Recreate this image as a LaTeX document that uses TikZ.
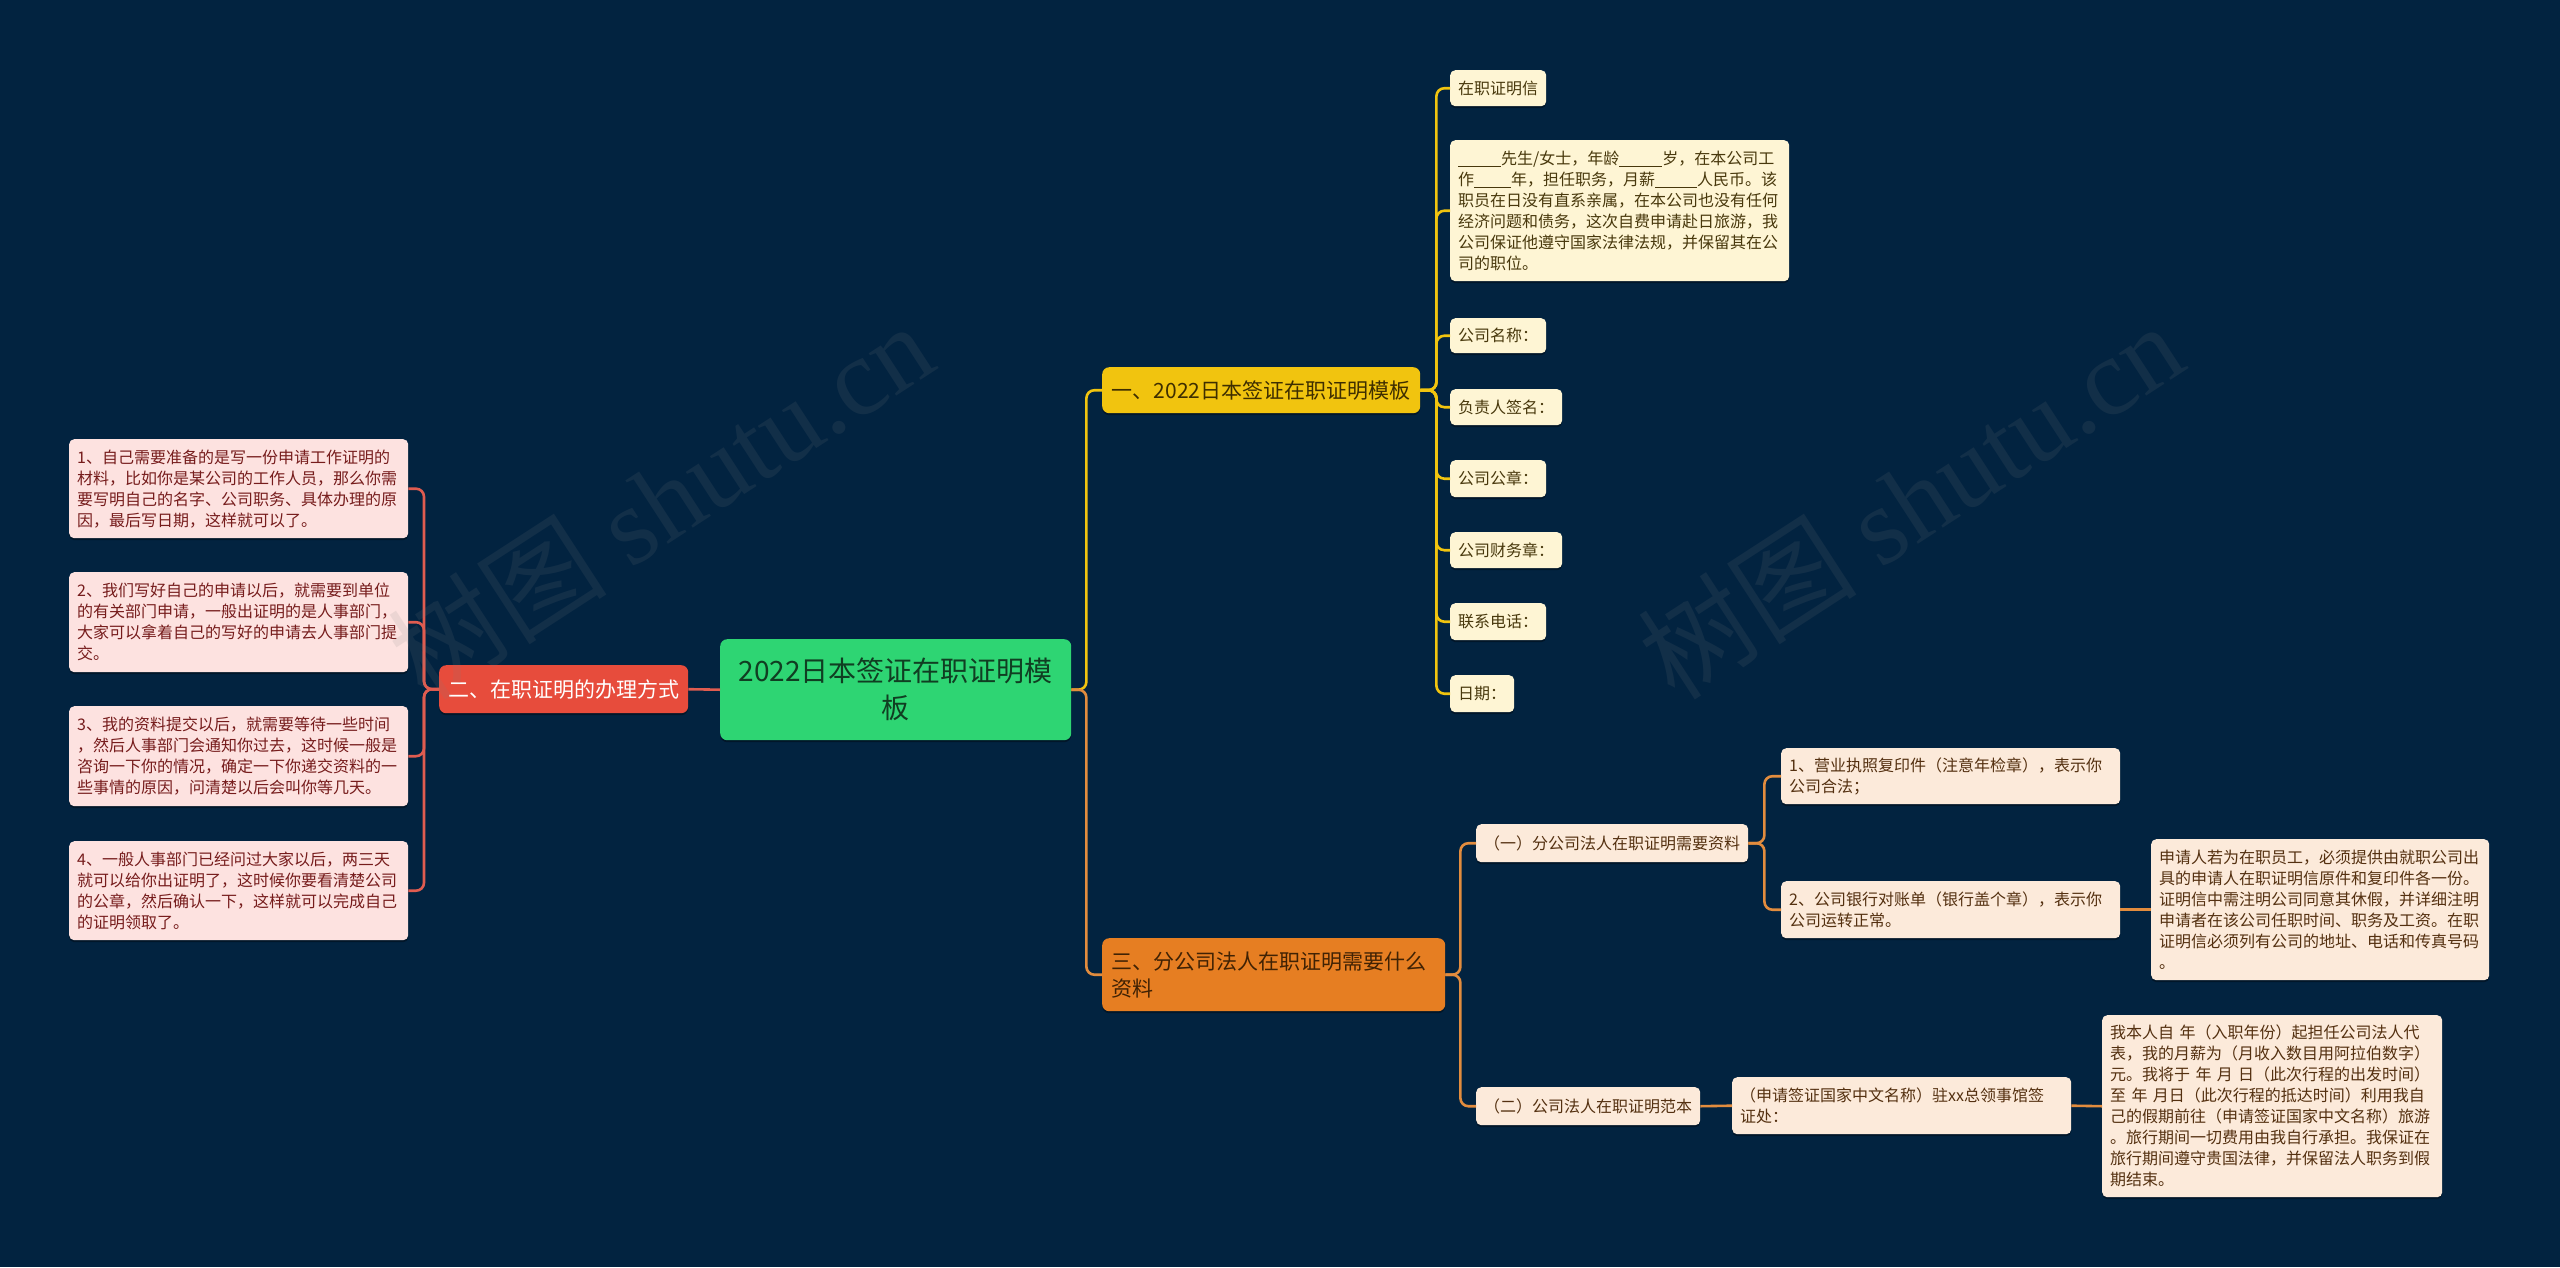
\documentclass[tikz,border=0pt]{standalone}
\usepackage{fontspec}
\setmainfont{Noto Sans CJK SC}
\newfontfamily\wmserif{Liberation Serif}
\usetikzlibrary{shadows}
\definecolor{bg}{RGB}{2,35,64}
\definecolor{cgreen}{RGB}{46,213,115}
\definecolor{cyellow}{RGB}{241,196,15}
\definecolor{cred}{RGB}{231,76,60}
\definecolor{corange}{RGB}{230,126,34}
\definecolor{lyellow}{RGB}{254,245,212}
\definecolor{lpink}{RGB}{253,226,224}
\definecolor{lpeach}{RGB}{252,234,218}
\definecolor{tyellow}{RGB}{72,56,12}
\definecolor{tpink}{RGB}{118,28,28}
\definecolor{tpeach}{RGB}{84,48,16}
\definecolor{tgreen}{RGB}{16,62,34}
\definecolor{tmainy}{RGB}{62,46,0}
\definecolor{tmaino}{RGB}{64,34,4}
\definecolor{lnyellow}{RGB}{241,196,15}
\definecolor{lnred}{RGB}{224,92,80}
\definecolor{lnorange}{RGB}{226,140,62}
\newcommand\myblank[1]{\rule[-3pt]{#1pt}{0.9pt}}
\tikzset{
  shad/.style={drop shadow={shadow xshift=0pt, shadow yshift=-2pt, fill=black, opacity=0.35}},
  box/.style={anchor=north west, rounded corners=5pt, inner xsep=8pt, inner ysep=0pt,
    font=\fontsize{16}{21}\selectfont, align=left, shad},
  yleaf/.style={box, fill=lyellow, text=tyellow},
  pleaf/.style={box, fill=lpink, text=tpink},
  oleaf/.style={box, fill=lpeach, text=tpeach},
  mainbox/.style={anchor=north west, rounded corners=7pt, inner xsep=9pt, inner ysep=0pt,
    font=\fontsize{21}{27}\selectfont, align=left, shad},
  link/.style={line width=2.6pt, rounded corners=8pt},
  wmark/.style={rotate=33, text=gray, opacity=0.13, font=\fontsize{110}{110}\selectfont}
}
\begin{document}
\begin{tikzpicture}[x=1pt, y=-1pt]
\fill[bg] (0,0) rectangle (2560,1267);
\useasboundingbox (0,0) rectangle (2560,1267);

% centre
\node[anchor=north west, fill=cgreen, text=tgreen, rounded corners=7pt, inner sep=0pt,
  minimum width=351pt, minimum height=101pt, align=center,
  font=\fontsize{28}{37}\selectfont, shad] (c) at (720,639) {2022日本签证在职证明模\\板};

% main branches
\node[mainbox, fill=cyellow, text=tmainy, minimum width=318pt, minimum height=46pt] (Y) at (1102,367) {一、2022日本签证在职证明模板};
\node[mainbox, fill=cred, text=white, minimum width=249pt, minimum height=48pt] (R) at (439,665) {二、在职证明的办理方式};
\node[mainbox, fill=corange, text=tmaino, text width=325pt, minimum height=73pt] (O) at (1102,938) {三、分公司法人在职证明需要什么\\资料};

% yellow leaves
\node[yleaf, minimum height=36pt] (y1) at (1450,70) {在职证明信};
\node[yleaf, text width=323pt, minimum height=141pt] (y2) at (1450,140) {\myblank{43}先生/女士，年龄\myblank{43}岁，在本公司工\\作\myblank{37}年，担任职务，月薪\myblank{42}人民币。该\\职员在日没有直系亲属，在本公司也没有任何\\经济问题和债务，这次自费申请赴日旅游，我\\公司保证他遵守国家法律法规，并保留其在公\\司的职位。};
\node[yleaf, minimum height=35pt] (y3) at (1450,318) {公司名称：};
\node[yleaf, minimum height=36pt] (y4) at (1450,389) {负责人签名：};
\node[yleaf, minimum height=37pt] (y5) at (1450,460) {公司公章：};
\node[yleaf, minimum height=36pt] (y6) at (1450,532) {公司财务章：};
\node[yleaf, minimum height=37pt] (y7) at (1450,603) {联系电话：};
\node[yleaf, minimum height=37pt] (y8) at (1450,675) {日期：};

% pink leaves
\node[pleaf, text width=323pt, minimum height=99pt] (p1) at (69,439) {1、自己需要准备的是写一份申请工作证明的\\材料，比如你是某公司的工作人员，那么你需\\要写明自己的名字、公司职务、具体办理的原\\因，最后写日期，这样就可以了。};
\node[pleaf, text width=323pt, minimum height=100pt] (p2) at (69,572) {2、我们写好自己的申请以后，就需要到单位\\的有关部门申请，一般出证明的是人事部门，\\大家可以拿着自己的写好的申请去人事部门提\\交。};
\node[pleaf, text width=323pt, minimum height=100pt] (p3) at (69,706) {3、我的资料提交以后，就需要等待一些时间\\，然后人事部门会通知你过去，这时候一般是\\咨询一下你的情况，确定一下你递交资料的一\\些事情的原因，问清楚以后会叫你等几天。};
\node[pleaf, text width=323pt, minimum height=99pt] (p4) at (69,841) {4、一般人事部门已经问过大家以后，两三天\\就可以给你出证明了，这时候你要看清楚公司\\的公章，然后确认一下，这样就可以完成自己\\的证明领取了。};

% orange leaves
\node[oleaf, minimum height=38pt] (o1) at (1476,824) {（一）分公司法人在职证明需要资料};
\node[oleaf, minimum height=38pt] (o2) at (1476,1087) {（二）公司法人在职证明范本};
\node[oleaf, text width=323pt, minimum height=56pt] (o11) at (1781,748) {1、营业执照复印件（注意年检章），表示你\\公司合法；};
\node[oleaf, text width=323pt, minimum height=57pt] (o12) at (1781,881) {2、公司银行对账单（银行盖个章），表示你\\公司运转正常。};
\node[oleaf, text width=322pt, minimum height=141pt] (o13) at (2151,839) {申请人若为在职员工，必须提供由就职公司出\\具的申请人在职证明信原件和复印件各一份。\\证明信中需注明公司同意其休假，并详细注明\\申请者在该公司任职时间、职务及工资。在职\\证明信必须列有公司的地址、电话和传真号码\\。};
\node[oleaf, text width=323pt, minimum height=57pt] (o21) at (1732,1077) {（申请签证国家中文名称）驻xx总领事馆签\\证处：};
\node[oleaf, text width=324pt, minimum height=182pt] (o22) at (2102,1015) {我本人自 年（入职年份）起担任公司法人代\\表，我的月薪为（月收入数目用阿拉伯数字）\\元。我将于 年 月 日（此次行程的出发时间）\\至 年 月日（此次行程的抵达时间）利用我自\\己的假期前往（申请签证国家中文名称）旅游\\。旅行期间一切费用由我自行承担。我保证在\\旅行期间遵守贵国法律，并保留法人职务到假\\期结束。};

% connectors
\draw[link, lnred] (c.west) -- (R.east);
\foreach \p in {p1,p2,p3,p4} \draw[link, lnred] (R.west) -- ++(-15,0) |- (\p.east);
\draw[link, lnyellow] (c.east) -- ++(15,0) |- (Y.west);
\draw[link, lnorange] (c.east) -- ++(15,0) |- (O.west);
\foreach \q in {y1,y2,y3,y4,y5,y6,y7,y8} \draw[link, lnyellow] (Y.east) -- ++(16,0) |- (\q.west);
\foreach \q in {o1,o2} \draw[link, lnorange] (O.east) -- ++(15,0) |- (\q.west);
\foreach \q in {o11,o12} \draw[link, lnorange] (o1.east) -- ++(16,0) |- (\q.west);
\draw[link, lnorange] (o12.east) -- (o13.west);
\draw[link, lnorange] (o2.east) -- (o21.west);
\draw[link, lnorange] (o21.east) -- (o22.west);

% watermarks
\node[wmark] (wm1) at (660,500) {树图 {\wmserif shutu.cn}};
\node[wmark] (wm2) at (1910,500) {树图 {\wmserif shutu.cn}};
\end{tikzpicture}
\end{document}
